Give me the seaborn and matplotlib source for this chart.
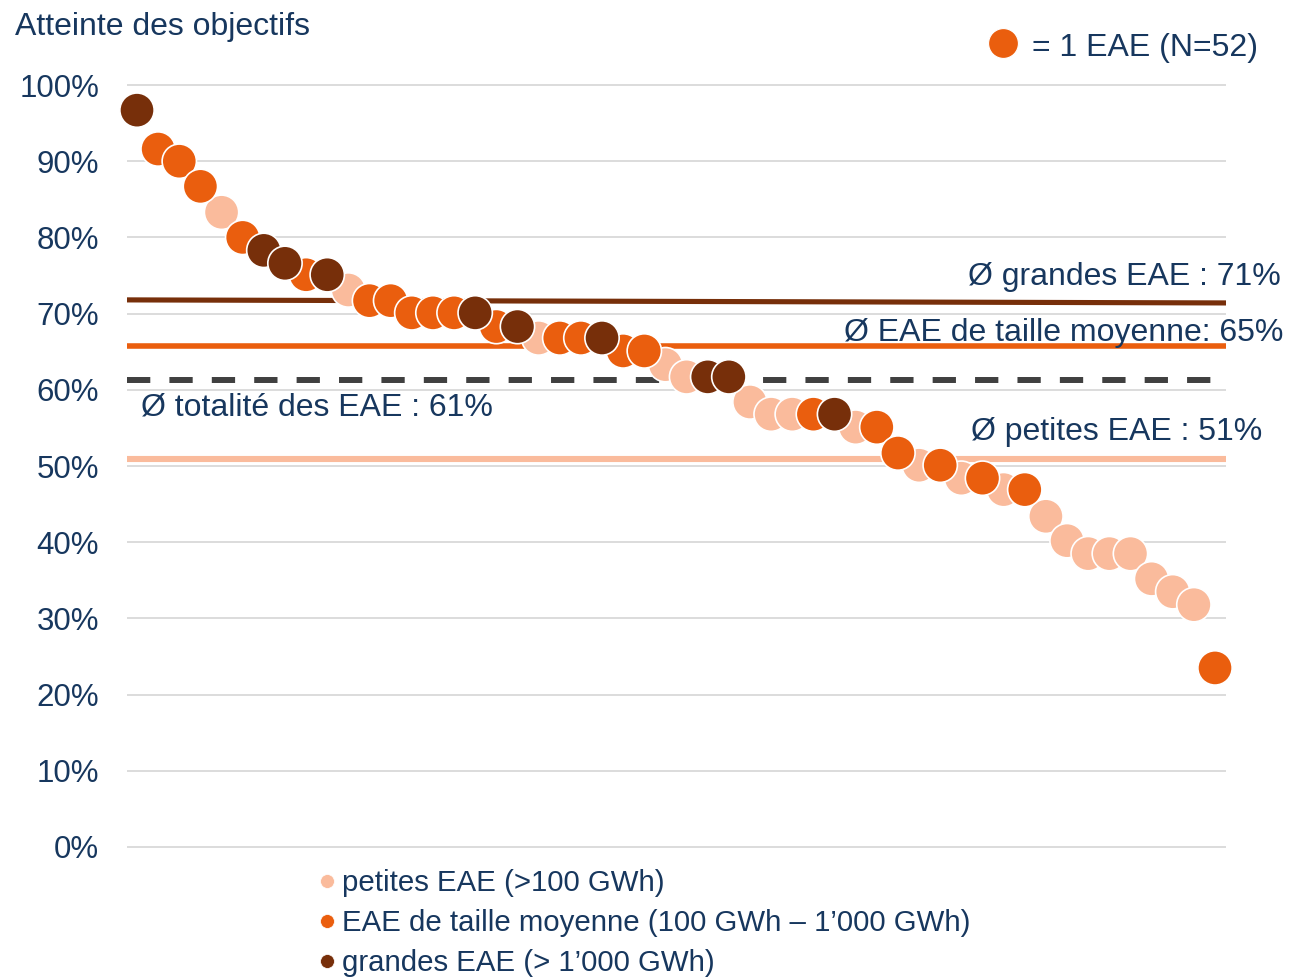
import numpy as np
import pandas as pd
import matplotlib
matplotlib.use("Agg")
import matplotlib.pyplot as plt
from matplotlib.lines import Line2D
import seaborn as sns

# ----------------------
# Data
# ----------------------
# target achievement per EAE, sorted from best to worst (%)
atteinte = [96.7, 91.6, 90.0, 86.7, 83.3, 80.0, 78.3, 76.6, 75.1, 75.1,
            73.1, 71.7, 71.7, 70.1, 70.1, 70.1, 70.1, 68.3, 68.3, 66.8,
            66.8, 66.8, 66.8, 65.1, 65.1, 63.3, 61.7, 61.7, 61.7, 58.4,
            56.8, 56.8, 56.8, 56.8, 55.1, 55.1, 51.7, 50.1, 50.1, 48.4,
            48.4, 46.9, 46.9, 43.4, 40.2, 38.5, 38.5, 38.5, 35.2, 33.5,
            31.8, 23.5]
# size class of each EAE: P = petites, M = taille moyenne, G = grandes
taille = ["G", "M", "M", "M", "P", "M", "G", "G", "M", "G",
          "P", "M", "M", "M", "M", "M", "G", "M", "G", "P",
          "M", "M", "G", "M", "M", "P", "P", "G", "G", "P",
          "P", "P", "M", "G", "P", "M", "M", "P", "M", "P",
          "M", "P", "M", "P", "P", "P", "P", "P", "P", "P",
          "P", "M"]
classes = ["P", "M", "G"]
class_labels = ["petites EAE (>100 GWh)",
                "EAE de taille moyenne (100 GWh \u2013 1\u2019000 GWh)",
                "grandes EAE (> 1\u2019000 GWh)"]

# average lines (as they sit in the picture)
moy_grandes = [71.8, 71.4]   # left end, right end (slightly sloped)
moy_moyenne = 65.8
moy_totale = 61.3
moy_petites = 50.9

yticks = list(range(0, 101, 10))
ytick_labels = [f"{t}%" for t in yticks]

# ----------------------
# Style
# ----------------------
LIGHT = "#FABB9C"
MID = "#EA5E0E"
DARK = "#772F0A"
NAVY = "#17375E"
palette = {"P": LIGHT, "M": MID, "G": DARK}

sns.set_style("white")
plt.rcParams["font.family"] = ["Liberation Sans", "DejaVu Sans"]

W, H = 1291, 980
def fx(x):
    return x / W
def fy(y):
    return 1 - y / H

df = pd.DataFrame({"rang": np.arange(1, len(atteinte) + 1),
                   "atteinte": atteinte,
                   "taille": taille})
# petites first, grandes on top
df["ordre"] = df["taille"].map({c: i for i, c in enumerate(classes)})
df = df.sort_values(["ordre", "rang"])

fig = plt.figure(figsize=(W / 100, H / 100), dpi=100)
ax = fig.add_axes([fx(127), fy(854.6), 1099 / W, 777.2 / H])
ax.set_xlim(0.527, 52.52)
ax.set_ylim(-1, 101)

# grid
ax.set_yticks(yticks)
ax.set_yticklabels(ytick_labels)
ax.set_xticks([])
ax.yaxis.grid(True, color="#D9D9D9", linewidth=1.3, zorder=0)
ax.set_axisbelow(True)
ax.tick_params(axis="y", length=0, pad=20, labelsize=22.5, labelcolor=NAVY)
sns.despine(ax=ax, left=True, bottom=True)

# average lines
ax.plot(ax.get_xlim(), moy_grandes, color=DARK, lw=3.7, solid_capstyle="butt", zorder=2)
ax.axhline(moy_moyenne, color=MID, lw=4.0, solid_capstyle="butt", zorder=2)
ax.axhline(moy_totale, color="#404040", lw=4.3, ls=(0, (3.9, 3.2)), zorder=2)
ax.axhline(moy_petites, color=LIGHT, lw=4.4, solid_capstyle="butt", zorder=2)

# dots
sns.scatterplot(data=df, x="rang", y="atteinte", hue="taille", palette=palette,
                s=610, edgecolor="white", linewidth=1.2, legend=False,
                zorder=5, clip_on=False, ax=ax)
ax.set_xlabel("")
ax.set_ylabel("")

# texts
FS = 23
fig.text(fx(15), fy(35), "Atteinte des objectifs", fontsize=FS, color=NAVY, va="baseline")
fig.text(fx(1281), fy(285), "\u00d8 grandes EAE : 71%", fontsize=FS, color=NAVY,
         ha="right", va="baseline")
fig.text(fx(1283), fy(341), "\u00d8 EAE de taille moyenne: 65%", fontsize=FS, color=NAVY,
         ha="right", va="baseline")
fig.text(fx(141), fy(415), "\u00d8 totalit\u00e9 des EAE : 61%", fontsize=FS, color=NAVY,
         va="baseline")
fig.text(fx(971), fy(440), "\u00d8 petites EAE : 51%", fontsize=FS, color=NAVY,
         va="baseline")

# "= 1 EAE" key
fig.add_artist(Line2D([fx(1003)], [fy(43)], marker="o", markersize=21.5,
                      color=MID, markeredgecolor="white", markeredgewidth=0.8,
                      linestyle="none", transform=fig.transFigure))
fig.text(fx(1032), fy(56), "= 1 EAE (N=52)", fontsize=FS, color=NAVY, va="baseline")

# bottom legend
handles = [Line2D([0], [0], marker="o", linestyle="none", markersize=10,
                  color=palette[c], markeredgecolor="white", markeredgewidth=0.5)
           for c in classes]
leg = fig.legend(handles, class_labels, loc="upper left",
                 bbox_to_anchor=(fx(320), fy(869)), frameon=False,
                 fontsize=21.2, handlelength=0.5, handletextpad=0.25,
                 labelspacing=0.41, borderpad=0, borderaxespad=0)
for t in leg.get_texts():
    t.set_color(NAVY)

fig.savefig("out.png", dpi=100)
